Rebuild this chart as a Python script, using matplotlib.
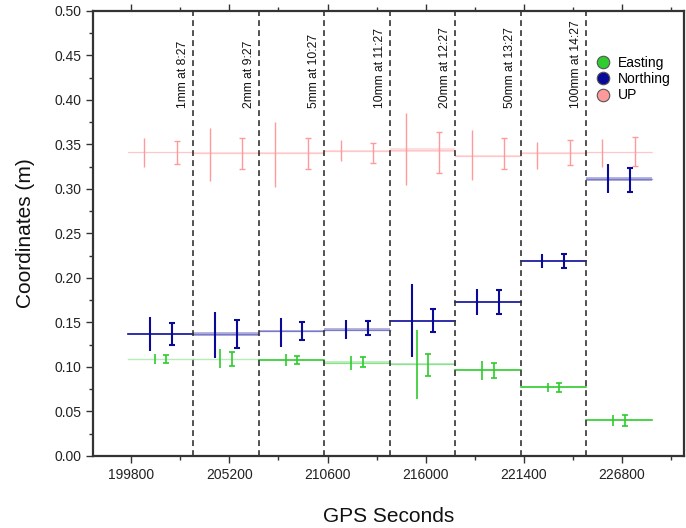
import numpy as np
import matplotlib
matplotlib.use('Agg')
import matplotlib.pyplot as plt
from matplotlib.lines import Line2D
from matplotlib.ticker import MultipleLocator

plt.rcParams['font.family'] = ['Liberation Sans', 'DejaVu Sans']

# hourly segments (GPS seconds of week)
seg_start = [199620, 203220, 206820, 210420, 214020, 217620, 221220, 224820]
seg_len = 3600
boundaries = [203220, 206820, 210420, 214020, 217620, 221220, 224820]
events = ["1mm at 8:27", "2mm at 9:27", "5mm at 10:27", "10mm at 11:27",
          "20mm at 12:27", "50mm at 13:27", "100mm at 14:27"]

# Northing
north_mean = [0.137, 0.137, 0.140, 0.142, 0.152, 0.173, 0.219, 0.311]
north_band = [0.0, 0.002, 0.001, 0.002, 0.0, 0.0, 0.0, 0.002]
north_a = [0.137, 0.136, 0.139, 0.142, 0.152, 0.173, 0.219, 0.312]
north_a_err = [0.019, 0.026, 0.016, 0.011, 0.041, 0.015, 0.008, 0.016]
north_b = [0.137, 0.137, 0.140, 0.144, 0.152, 0.173, 0.219, 0.310]
north_b_err = [0.012, 0.016, 0.010, 0.008, 0.013, 0.014, 0.0075, 0.0135]

# Easting
east_mean = [0.109, 0.109, 0.108, 0.105, 0.103, 0.097, 0.077, 0.040]
east_band = [0.0005, 0.0005, 0.0, 0.002, 0.0012, 0.0, 0.0, 0.0]
east_a = [0.109, 0.109, 0.108, 0.104, 0.103, 0.096, 0.077, 0.040]
east_a_err = [0.0056, 0.0107, 0.0064, 0.0079, 0.039, 0.0108, 0.0047, 0.0062]
east_b = [0.109, 0.109, 0.108, 0.106, 0.102, 0.096, 0.077, 0.040]
east_b_err = [0.0043, 0.0079, 0.0047, 0.0056, 0.0122, 0.0084, 0.0054, 0.0066]

# UP
up_mean = [0.341, 0.340, 0.340, 0.343, 0.344, 0.337, 0.340, 0.341]
up_band = [0.001, 0.001, 0.001, 0.001, 0.002, 0.001, 0.001, 0.001]
up_a = [0.341, 0.339, 0.339, 0.343, 0.345, 0.338, 0.338, 0.3405]
up_a_err = [0.0165, 0.0296, 0.0365, 0.012, 0.040, 0.028, 0.015, 0.0154]
up_b = [0.341, 0.340, 0.340, 0.3405, 0.341, 0.3395, 0.341, 0.342]
up_b_err = [0.013, 0.0178, 0.0178, 0.0116, 0.0234, 0.0174, 0.014, 0.016]

c_east = '#2ecc2e'
c_north = '#0a0a99'
c_up = '#ff9a9a'

fig = plt.figure(figsize=(6.86, 5.28), dpi=100)
ax = fig.add_axes([0.1356, 0.1364, 0.8614, 0.8428])

starts = np.array(seg_start)

def draw_series(mean, band, a, a_err, b, b_err, color, off_a, off_b, lw_bar):
    for i, s in enumerate(starts):
        xs = [s, s + seg_len]
        if band[i] > 0:
            ax.fill_between(xs, mean[i] - band[i], mean[i] + band[i],
                            color=color, alpha=0.3, lw=0, zorder=2)
            ax.plot(xs, [mean[i], mean[i]], color=color, lw=1.0, alpha=0.35, zorder=2)
        else:
            ax.plot(xs, [mean[i], mean[i]], color=color, lw=1.2, zorder=2)
    ax.errorbar(starts + off_a, a, yerr=a_err, fmt='none', ecolor=color,
                elinewidth=lw_bar, capsize=0, zorder=3)
    ax.errorbar(starts + off_b, b, yerr=b_err, fmt='none', ecolor=color,
                elinewidth=lw_bar, capsize=2.5, capthick=lw_bar, zorder=3)

draw_series(up_mean, up_band, up_a, up_a_err, up_b, up_b_err, c_up, 900, 2700, 1.0)
draw_series(north_mean, north_band, north_a, north_a_err, north_b, north_b_err,
            c_north, 1200, 2400, 1.5)
draw_series(east_mean, east_band, east_a, east_a_err, east_b, east_b_err,
            c_east, 1480, 2120, 1.2)

for xb, lab in zip(boundaries, events):
    ax.axvline(xb, color='#333333', ls='--', lw=1.2, dashes=(3.5, 2.5), zorder=4)
    ax.annotate(lab, xy=(xb, 0.391), xytext=(-3, 0), textcoords='offset points',
                rotation=90, ha='right', va='bottom', fontsize=8.7, color='#111111')

ax.set_xlim(197700, 230200)
ax.set_ylim(0, 0.5)
ax.xaxis.set_major_locator(MultipleLocator(5400))
ax.xaxis.set_minor_locator(MultipleLocator(2700))
ax.yaxis.set_major_locator(MultipleLocator(0.05))
ax.yaxis.set_minor_locator(MultipleLocator(0.025))
ax.yaxis.set_major_formatter(matplotlib.ticker.FormatStrFormatter('%.2f'))
ax.tick_params(which='both', direction='out', top=True, right=False,
               labelsize=10, colors='#333333', labelcolor='#222222')
ax.tick_params(which='major', length=5, width=1)
ax.tick_params(which='minor', length=3, width=1)
for sp in ax.spines.values():
    sp.set_color('#333333')
    sp.set_linewidth(1.6)

ax.set_xlabel('GPS Seconds', fontsize=15, labelpad=18, color='#111111')
ax.set_ylabel('Coordinates (m)', fontsize=15, labelpad=14, color='#111111')

handles = [Line2D([], [], ls='none', marker='o', markersize=9, markerfacecolor=c,
                  markeredgecolor='#555555', markeredgewidth=0.8)
           for c in (c_east, c_north, c_up)]
ax.legend(handles, ['Easting', 'Northing', 'UP'], loc='upper left',
          bbox_to_anchor=(0.839, 0.914), frameon=False, borderpad=0,
          handlelength=1.0, handletextpad=0.6, labelspacing=0.15, fontsize=10)

fig.savefig('out.png', dpi=100)
